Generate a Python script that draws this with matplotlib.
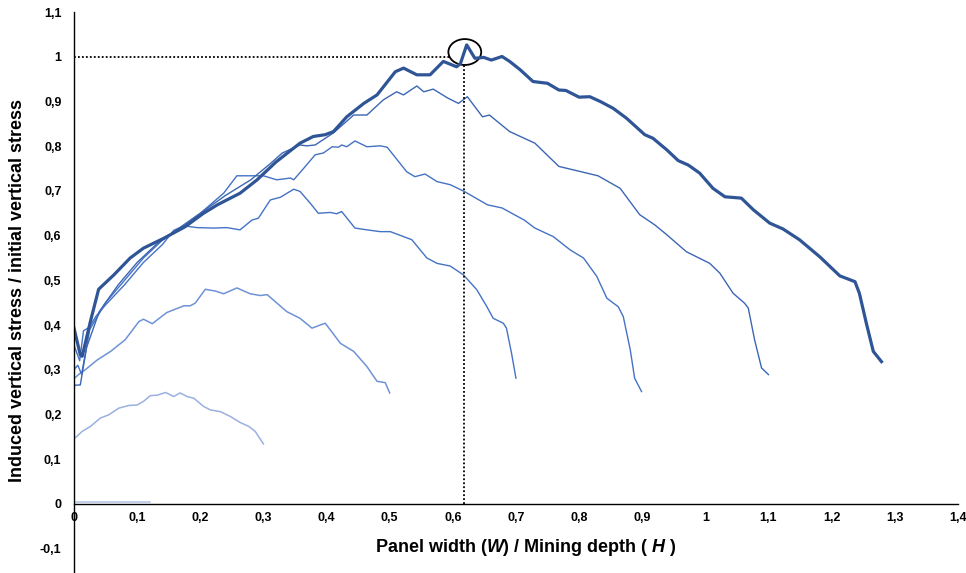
import matplotlib
matplotlib.use("Agg")
import matplotlib.pyplot as plt
from matplotlib.patches import Ellipse
from matplotlib.ticker import FuncFormatter

plt.rcParams["font.family"] = ["Liberation Sans", "DejaVu Sans"]
plt.rcParams["mathtext.fontset"] = "custom"
plt.rcParams["mathtext.it"] = "Liberation Sans:italic:bold"
plt.rcParams["mathtext.rm"] = "Liberation Sans:bold"

# --------------------------------------------------
# DATA
# --------------------------------------------------

# W/H = 0.12
x012 = [0.0, 0.04, 0.08, 0.12]
y012 = [0.004, 0.004, 0.004, 0.004]

# W/H = 0.3
x03 = [0.0, 0.013, 0.026, 0.042, 0.055, 0.071, 0.087, 0.100, 0.110, 0.121,
       0.132, 0.145, 0.158, 0.168, 0.179, 0.190, 0.205, 0.216, 0.232, 0.248,
       0.263, 0.277, 0.287, 0.300]
y03 = [0.145, 0.162, 0.173, 0.192, 0.199, 0.214, 0.220, 0.221, 0.229, 0.242,
       0.243, 0.249, 0.240, 0.248, 0.240, 0.236, 0.218, 0.210, 0.206, 0.195,
       0.182, 0.173, 0.162, 0.134]

# W/H = 0.5
x05 = [0.0, 0.008, 0.018, 0.037, 0.058, 0.081, 0.103, 0.110, 0.124, 0.147,
       0.174, 0.184, 0.192, 0.208, 0.224, 0.237, 0.258, 0.279, 0.295, 0.306,
       0.337, 0.358, 0.377, 0.390, 0.398, 0.422, 0.443, 0.464, 0.480, 0.493,
       0.500]
y05 = [0.280, 0.290, 0.300, 0.322, 0.341, 0.367, 0.408, 0.413, 0.403, 0.428,
       0.443, 0.443, 0.449, 0.480, 0.476, 0.470, 0.483, 0.470, 0.466, 0.468,
       0.430, 0.415, 0.393, 0.400, 0.404, 0.359, 0.341, 0.307, 0.274, 0.271,
       0.248]

# W/H = 0.7
x07 = [0.0, 0.009, 0.015, 0.024, 0.035, 0.05, 0.08, 0.11, 0.14, 0.158,
       0.174, 0.195, 0.221, 0.242, 0.263, 0.282, 0.292, 0.311, 0.327, 0.348,
       0.358, 0.374, 0.387, 0.406, 0.416, 0.424, 0.445, 0.464, 0.485, 0.501,
       0.535, 0.559, 0.575, 0.596, 0.617, 0.638, 0.654, 0.664, 0.680, 0.685,
       0.693, 0.700]
y07 = [0.355, 0.320, 0.387, 0.395, 0.420, 0.445, 0.490, 0.540, 0.580, 0.612,
       0.622, 0.618, 0.617, 0.618, 0.613, 0.635, 0.639, 0.680, 0.686, 0.704,
       0.699, 0.673, 0.650, 0.652, 0.649, 0.654, 0.617, 0.613, 0.609, 0.609,
       0.591, 0.550, 0.538, 0.532, 0.512, 0.479, 0.441, 0.415, 0.404, 0.393,
       0.337, 0.281]

# W/H = 0.9
x09 = [0.0, 0.006, 0.012, 0.025, 0.05, 0.08, 0.11, 0.14, 0.17, 0.20,
       0.237, 0.258, 0.284, 0.300, 0.321, 0.343, 0.348, 0.364, 0.382, 0.395,
       0.409, 0.419, 0.424, 0.432, 0.445, 0.464, 0.485, 0.496, 0.527, 0.540,
       0.556, 0.575, 0.596, 0.618, 0.655, 0.678, 0.713, 0.730, 0.759, 0.786,
       0.807, 0.828, 0.844, 0.862, 0.870, 0.881, 0.888, 0.899]
y09 = [0.300, 0.310, 0.290, 0.390, 0.450, 0.500, 0.550, 0.590, 0.620, 0.650,
       0.695, 0.734, 0.734, 0.734, 0.725, 0.729, 0.725, 0.751, 0.781, 0.785,
       0.799, 0.798, 0.803, 0.799, 0.812, 0.799, 0.801, 0.798, 0.743, 0.732,
       0.738, 0.721, 0.714, 0.699, 0.669, 0.662, 0.635, 0.617, 0.598, 0.568,
       0.550, 0.509, 0.460, 0.441, 0.419, 0.345, 0.281, 0.251]

# W/H = 1.1
x11 = [0.0, 0.01, 0.02, 0.04, 0.07, 0.10, 0.13, 0.16, 0.20, 0.24,
       0.28, 0.31, 0.33, 0.358, 0.369, 0.382, 0.411, 0.443, 0.464, 0.490,
       0.511, 0.522, 0.543, 0.554, 0.569, 0.592, 0.609, 0.623, 0.647, 0.658,
       0.690, 0.730, 0.768, 0.830, 0.865, 0.896, 0.920, 0.939, 0.970, 1.007,
       1.023, 1.044, 1.062, 1.068, 1.078, 1.089, 1.100]
y11 = [0.265, 0.266, 0.350, 0.430, 0.490, 0.540, 0.580, 0.610, 0.650, 0.690,
       0.725, 0.760, 0.785, 0.803, 0.801, 0.803, 0.830, 0.870, 0.870, 0.904,
       0.922, 0.915, 0.935, 0.922, 0.928, 0.908, 0.896, 0.911, 0.866, 0.870,
       0.833, 0.807, 0.755, 0.734, 0.706, 0.647, 0.624, 0.602, 0.564, 0.538,
       0.516, 0.471, 0.449, 0.438, 0.367, 0.304, 0.289]

# W/H = 1.28 (critical width, thick line)
x128 = [0.0, 0.010, 0.013, 0.026, 0.039, 0.063, 0.089, 0.110, 0.142, 0.176,
        0.205, 0.227, 0.263, 0.290, 0.320, 0.358, 0.379, 0.398, 0.411, 0.432,
        0.459, 0.480, 0.509, 0.522, 0.543, 0.564, 0.585, 0.606, 0.612, 0.622,
        0.635, 0.649, 0.661, 0.678, 0.690, 0.707, 0.727, 0.750, 0.768, 0.779,
        0.800, 0.817, 0.834, 0.854, 0.875, 0.904, 0.917, 0.939, 0.957, 0.973,
        0.991, 1.012, 1.031, 1.057, 1.076, 1.102, 1.123, 1.149, 1.181, 1.213,
        1.237, 1.244, 1.255, 1.266, 1.279]
y128 = [0.393, 0.333, 0.330, 0.408, 0.480, 0.512, 0.550, 0.572, 0.594, 0.620,
        0.650, 0.669, 0.695, 0.725, 0.765, 0.807, 0.822, 0.826, 0.833, 0.866,
        0.896, 0.915, 0.967, 0.975, 0.960, 0.960, 0.990, 0.978, 0.985, 1.027,
        0.997, 0.999, 0.993, 1.001, 0.990, 0.971, 0.945, 0.941, 0.926, 0.925,
        0.910, 0.911, 0.900, 0.885, 0.863, 0.826, 0.818, 0.792, 0.768, 0.758,
        0.740, 0.706, 0.687, 0.684, 0.658, 0.628, 0.615, 0.591, 0.553, 0.510,
        0.497, 0.471, 0.404, 0.341, 0.318]

# peak marker
peak_x = 0.618
peak_y = 1.0

x_ticks = [0.0, 0.1, 0.2, 0.3, 0.4, 0.5, 0.6, 0.7, 0.8, 0.9, 1.0, 1.1, 1.2, 1.3, 1.4]
y_ticks = [-0.1, 0.0, 0.1, 0.2, 0.3, 0.4, 0.5, 0.6, 0.7, 0.8, 0.9, 1.0, 1.1]

# --------------------------------------------------
# PLOT
# --------------------------------------------------

fig = plt.figure(figsize=(9.66, 5.73), dpi=100)
ax = fig.add_axes([0.0766, 0.0, 0.915, 0.9786])

ax.plot(x012, y012, color="#B4C7E7", lw=1.2)
ax.plot(x03, y03, color="#9AB0E0", lw=1.1, solid_joinstyle="round")
ax.plot(x05, y05, color="#6F92D6", lw=1.1, solid_joinstyle="round")
ax.plot(x07, y07, color="#4472C4", lw=1.0, solid_joinstyle="round")
ax.plot(x09, y09, color="#4472C4", lw=1.0, solid_joinstyle="round")
ax.plot(x11, y11, color="#3C66B4", lw=1.0, solid_joinstyle="round")
ax.plot(x128, y128, color="#2F5597", lw=2.3, solid_joinstyle="round")

# dotted guide lines to the peak
ax.plot([0, peak_x - 0.024], [peak_y, peak_y], color="black", ls=(0, (1, 1.2)), lw=1.3)
ax.plot([peak_x, peak_x], [0, peak_y - 0.017], color="black", ls=(0, (1, 1.2)), lw=1.3)
ax.add_patch(Ellipse((peak_x + 0.001, peak_y + 0.011), 0.052, 0.058,
                     fill=False, ec="black", lw=1.3))

ax.set_xlim(0, 1.4)
ax.set_ylim(-0.155, 1.1)
ax.set_xticks(x_ticks)
ax.set_yticks(y_ticks)


def comma_fmt(v, pos):
    return f"{round(v, 2):g}".replace(".", ",")


ax.xaxis.set_major_formatter(FuncFormatter(comma_fmt))
ax.yaxis.set_major_formatter(FuncFormatter(comma_fmt))

ax.spines["top"].set_visible(False)
ax.spines["right"].set_visible(False)
ax.spines["bottom"].set_position(("data", 0))
ax.spines["left"].set_linewidth(1.0)
ax.spines["bottom"].set_linewidth(1.0)
ax.tick_params(axis="x", length=0, pad=6, labelsize=9)
ax.tick_params(axis="y", length=0, pad=9, labelsize=9)
for lab in ax.get_xticklabels() + ax.get_yticklabels():
    lab.set_fontweight("bold")

fig.text(526 / 966, 1 - 548 / 573,
         r"Panel width ($\mathit{W}$) / Mining depth ( $\mathit{H}$ )",
         ha="center", va="center", fontsize=13, fontweight="bold")
fig.text(18 / 966, 1 - 291 / 573,
         "Induced vertical stress / initial vertical stress",
         ha="center", va="center", rotation=90, fontsize=13, fontweight="bold")

fig.savefig("out.png", dpi=100)
